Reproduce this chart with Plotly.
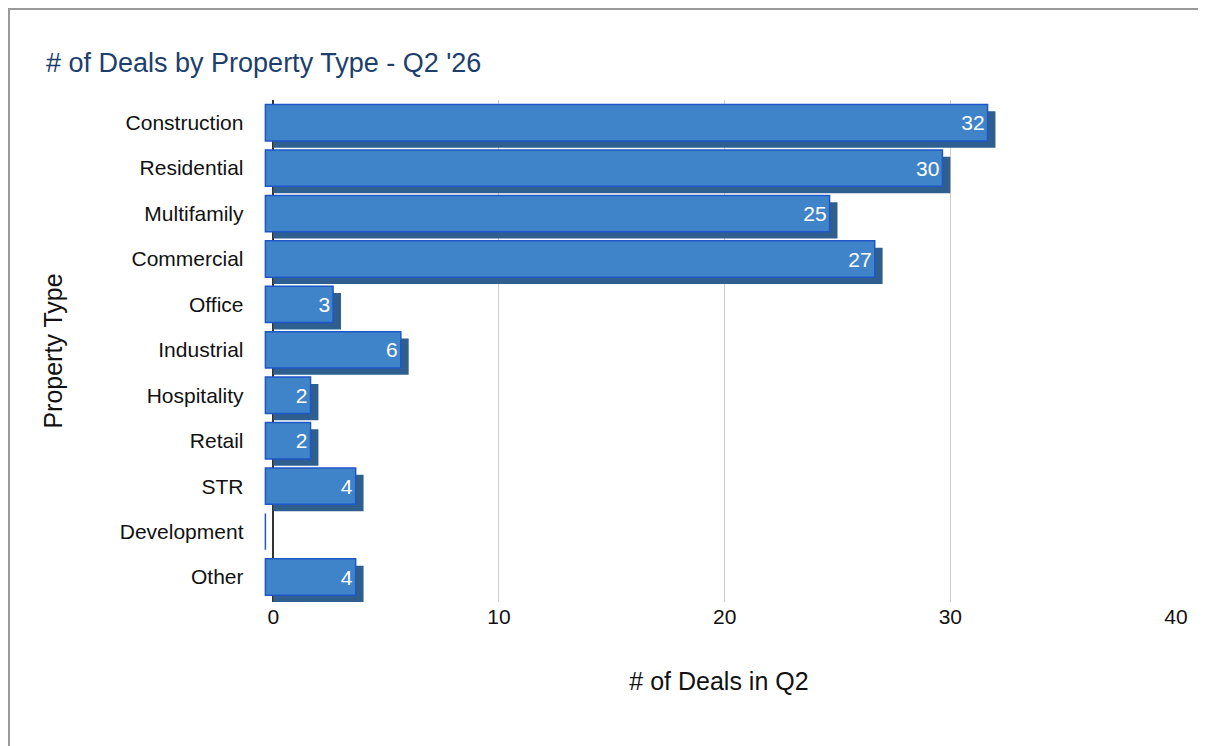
import plotly.graph_objects as go

types = ['Construction', 'Residential', 'Multifamily', 'Commercial', 'Office', 'Industrial',
         'Hospitality', 'Retail', 'STR', 'Development', 'Other']
deals = [32, 30, 25, 27, 3, 6, 2, 2, 4, 0, 4]

W, H = 1206, 746
L, R, T, B = 254, 38, 92, 152
pw, ph = W - L - R, H - T - B

depth = 0.35  # fake 3d extrusion, in x units
fig = go.Figure()

# shadow / extrusion
fig.add_trace(go.Bar(
    y=types, x=deals, base=0, orientation='h', width=0.8, offset=-0.4 + 0.15,
    marker=dict(color='#2f5f8e', line=dict(width=0)), hoverinfo='skip', showlegend=False))

# front face
fig.add_trace(go.Bar(
    y=types, x=deals, base=-depth, orientation='h', width=0.8, offset=-0.4,
    marker=dict(color='#3f84c8', line=dict(color='#1f56c8', width=1.5)),
    text=[str(d) if d else '' for d in deals], textposition='inside', insidetextanchor='end',
    textfont=dict(color='white', size=21, family='Liberation Sans, Arial'),
    showlegend=False))

fig.update_layout(
    barmode='overlay', width=W, height=H,
    paper_bgcolor='white', plot_bgcolor='white',
    margin=dict(l=L, r=R, t=T, b=B, autoexpand=False),
    font=dict(family='Liberation Sans, Arial', size=21, color='#111'),
    title=dict(text="# of Deals by Property Type - Q2 '26", x=38 / W, y=1 - 55 / H,
               xanchor='left', yanchor='middle', font=dict(size=27, color='#1c3f6e')),
    xaxis=dict(range=[-0.5, 40], tickvals=[0, 10, 20, 30, 40], showgrid=True,
               gridcolor='#cccccc', zeroline=True, zerolinecolor='#333', zerolinewidth=1.5,
               title=dict(text='# of Deals in Q2', standoff=45), ticks='', automargin=False),
    yaxis=dict(autorange='reversed', title=dict(text='Property Type', standoff=50),
               ticks='', ticksuffix='   ', showgrid=False, automargin=False),
    shapes=[dict(type='rect', xref='x domain', yref='y domain',
                 x0=-(L - 1) / pw, x1=1 + (R - 1) / pw, y0=-(B - 1) / ph, y1=1 + (T - 1) / ph,
                 line=dict(color='#999', width=2))],
)
fig.write_html("out.html")
